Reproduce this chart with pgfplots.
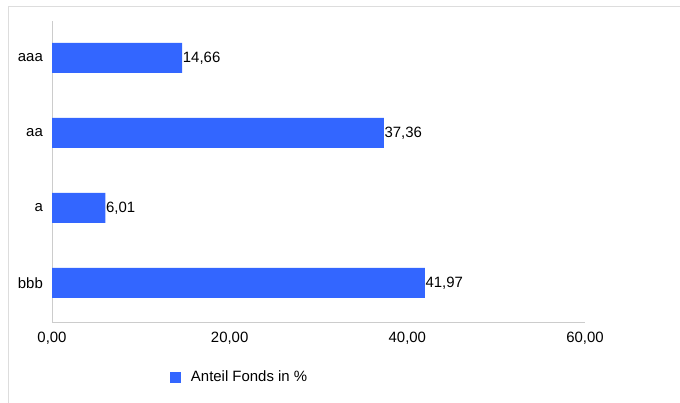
\documentclass[border=0pt]{standalone}
\usepackage{fontspec}
\setmainfont{Liberation Sans}
\usepackage{pgfplots}
\pgfplotsset{compat=1.18}
\definecolor{barblue}{HTML}{3366FF}
\definecolor{axgray}{HTML}{CCCCCC}
\definecolor{framegray}{HTML}{DDDDDD}
\begin{document}
\fontsize{15}{17}\selectfont
\begin{tikzpicture}
\path[use as bounding box] (0,0) rectangle (680bp,-403bp);
\draw[framegray, line width=1bp] (8bp,-403bp) -- (8bp,-6bp) -- (680bp,-6bp);
\begin{axis}[
  at={(52bp,-322bp)}, anchor=south west,
  scale only axis, width=533bp, height=301bp,
  xbar, bar width=30bp,
  xmin=0, xmax=60, ymin=-0.52, ymax=3.49,
  xtick={0,20,40,60},
  ytick={0,1,2,3},
  yticklabels={bbb,a,aa,aaa},
  axis x line*=bottom, axis y line*=left,
  axis line style={axgray, line width=1bp},
  x axis line style={-}, y axis line style={-},
  major tick length=0pt,
  tick style={draw=none},
  ticklabel style={font=\fontsize{15}{17}\selectfont, text=black},
  xticklabel style={yshift=-5bp},
  yticklabel style={xshift=-4bp},
  /pgf/number format/assume math mode=true,
  xticklabel={\pgfmathprintnumber[fixed,zerofill,precision=2,use comma,1000 sep={}]{\tick}},
  nodes near coords,
  point meta=x,
  nodes near coords style={font=\fontsize{15}{17}\selectfont, text=black, anchor=west, inner xsep=0.5bp,
    /pgf/number format/.cd, fixed, zerofill, precision=2, use comma, 1000 sep={}, assume math mode=true},
  legend style={draw=none, at={(0.221,-0.183)}, anchor=west, font=\fontsize{15}{17}\selectfont,
    inner sep=0pt, /tikz/every even column/.append style={column sep=0pt}},
  legend image code/.code={\fill[barblue] (0bp,-5.5bp) rectangle (11bp,5.5bp);},
  clip=false,
]
\addplot[fill=barblue, draw=none] coordinates {(41.97,0) (6.01,1) (37.36,2) (14.66,3)};
\addlegendentry{\hspace{8bp}Anteil Fonds in \%}
\end{axis}
\end{tikzpicture}
\end{document}
